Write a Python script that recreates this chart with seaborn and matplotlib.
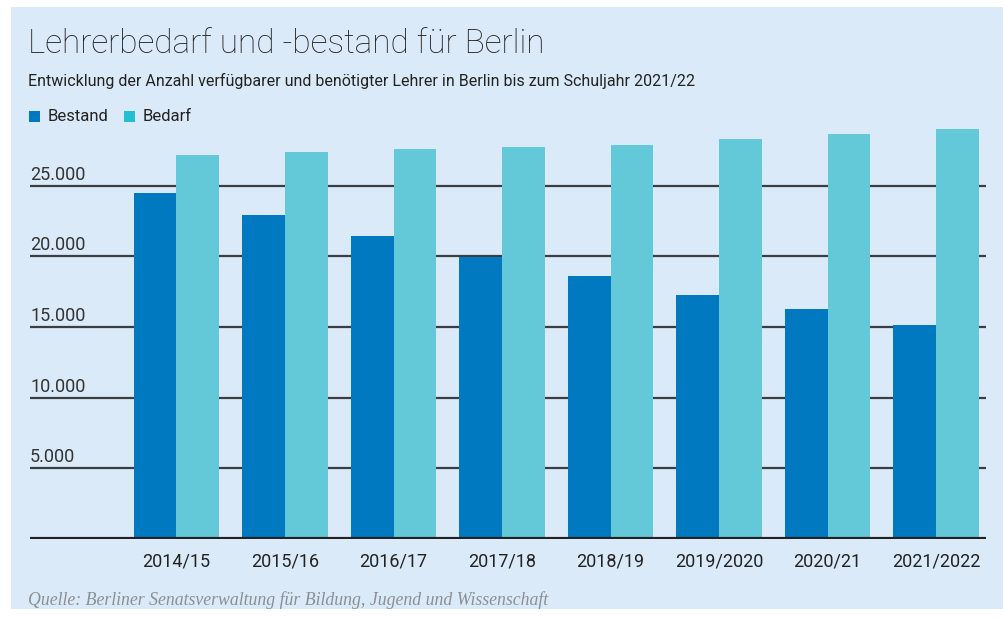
import matplotlib
matplotlib.use("Agg")
import matplotlib.pyplot as plt
from matplotlib.patches import Rectangle
import seaborn as sns
import pandas as pd

years = ["2014/15", "2015/16", "2016/17", "2017/18", "2018/19", "2019/2020", "2020/21", "2021/2022"]
bestand = [24500, 22950, 21450, 19950, 18600, 17250, 16250, 15150]
bedarf = [27150, 27400, 27600, 27750, 27900, 28300, 28650, 29000]
yticks = [5000, 10000, 15000, 20000, 25000]
ytick_labels = ["5.000", "10.000", "15.000", "20.000", "25.000"]

bg = "#dbeaf8"
c_bestand = "#0079c1"
c_bedarf = "#63c9d9"

sns.set_style("white")
plt.rcParams["font.family"] = ["Roboto", "DejaVu Sans"]

df = pd.DataFrame({
    "Jahr": years * 2,
    "Anzahl": bestand + bedarf,
    "Typ": ["Bestand"] * len(years) + ["Bedarf"] * len(years),
})

fig = plt.figure(figsize=(10.07, 6.18), dpi=100)
fig.patch.set_facecolor("white")
fig.patches.append(Rectangle((11 / 1007, 1 - 609 / 618), 992 / 1007, 602 / 618,
                             transform=fig.transFigure, facecolor=bg, edgecolor="none", zorder=-5))

ax = fig.add_axes([30 / 1007, 1 - 539 / 618, 956 / 1007, 424 / 618])
ax.set_facecolor("none")
sns.barplot(data=df, x="Jahr", y="Anzahl", hue="Typ", palette=[c_bestand, c_bedarf],
            width=0.785, saturation=1, legend=False, linewidth=0, ax=ax, zorder=3)

ax.set_xlim(-1.35, 7.46)
ax.set_ylim(0, 30000)
for v, lab in zip(yticks, ytick_labels):
    ax.axhline(v, color="#3a3d42", lw=1.6, zorder=1)
    ax.annotate(lab, xy=(0, v), xycoords=("axes fraction", "data"),
                xytext=(0, 1.5), textcoords="offset points", ha="left", va="bottom",
                fontsize=13, color="#333333")
ax.axhline(0, color="#222222", lw=3, zorder=4)

ax.set_yticks([])
ax.set_xlabel("")
ax.set_ylabel("")
ax.tick_params(axis="x", length=0, pad=10, labelsize=13, labelcolor="#222222")
for s in ax.spines.values():
    s.set_visible(False)

fig.text(28 / 1007, 1 - 53 / 618, "Lehrerbedarf und -bestand für Berlin", fontsize=24,
         fontweight="light", color="#222222", ha="left", va="baseline")
fig.text(28 / 1007, 1 - 86 / 618, "Entwicklung der Anzahl verfügbarer und benötigter Lehrer in Berlin bis zum Schuljahr 2021/22",
         fontsize=11.5, color="#222222", ha="left", va="baseline")

# legend
fig.patches.append(Rectangle((29 / 1007, 1 - 122 / 618), 11 / 1007, 11 / 618,
                             transform=fig.transFigure, facecolor=c_bestand, edgecolor="none"))
fig.text(48 / 1007, 1 - 121 / 618, "Bestand", fontsize=12, color="#222222", ha="left", va="baseline")
fig.patches.append(Rectangle((124 / 1007, 1 - 122 / 618), 11 / 1007, 11 / 618,
                             transform=fig.transFigure, facecolor="#22bfd2", edgecolor="none"))
fig.text(143 / 1007, 1 - 121 / 618, "Bedarf", fontsize=12, color="#222222", ha="left", va="baseline")

fig.text(28 / 1007, 1 - 605 / 618, "Quelle: Berliner Senatsverwaltung für Bildung, Jugend und Wissenschaft",
         fontsize=12.8, color="#8a8f96", style="italic", family=["Liberation Serif", "DejaVu Serif"],
         ha="left", va="baseline")

fig.savefig("out.png", dpi=100, facecolor="white")
